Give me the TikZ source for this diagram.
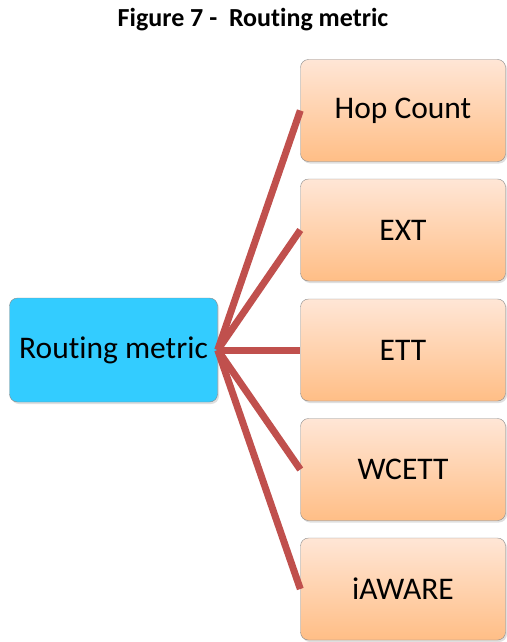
\documentclass[tikz,border=0pt]{standalone}
\usepackage{fontspec}
\setmainfont{Carlito}[Ligatures=NoCommon]
\usepackage{xcolor}
\usetikzlibrary{shadows}

\definecolor{rootblue}{HTML}{33CCFF}
\definecolor{peachtop}{HTML}{FFE6D6}
\definecolor{peachbot}{HTML}{FFBE86}
\definecolor{linkred}{HTML}{C0504D}
\definecolor{boxedge}{HTML}{8A8A8A}

\tikzset{
    metricbox/.style={draw=boxedge, rectangle, rounded corners=8pt, minimum width=205pt, minimum height=102pt,
        top color=peachtop, bottom color=peachbot, font=\fontsize{31.5}{36}\selectfont,
        drop shadow={opacity=0.25, shadow xshift=1.5pt, shadow yshift=-2pt}},
    rootbox/.style={draw=boxedge, rectangle, rounded corners=8pt, minimum width=208pt, minimum height=104pt,
        fill=rootblue, font=\fontsize{31.5}{36}\selectfont,
        drop shadow={opacity=0.25, shadow xshift=1.5pt, shadow yshift=-2pt}},
    link/.style={draw=linkred, line width=7pt}
}

\begin{document}
\begin{tikzpicture}[x=1pt, y=-1pt]
    \useasboundingbox (0,0) rectangle (506,642);

    \node[font=\fontsize{26}{31}\selectfont\bfseries] (title) at (253,20) {Figure 7 -\ \ Routing metric};

    \node[rootbox] (R) at (113.5,350) {Routing metric};

    \node[metricbox] (A) at (403,110.5) {Hop Count};
    \node[metricbox] (B) at (403,230) {EXT};
    \node[metricbox] (C) at (403,350) {ETT};
    \node[metricbox] (D) at (403,469.5) {WCETT};
    \node[metricbox] (E) at (403,589) {iAWARE};

    \path[link] (R.east) -- (A.west);
    \path[link] (R.east) -- (B.west);
    \path[link] (R.east) -- (C.west);
    \path[link] (R.east) -- (D.west);
    \path[link] (R.east) -- (E.west);
\end{tikzpicture}
\end{document}
